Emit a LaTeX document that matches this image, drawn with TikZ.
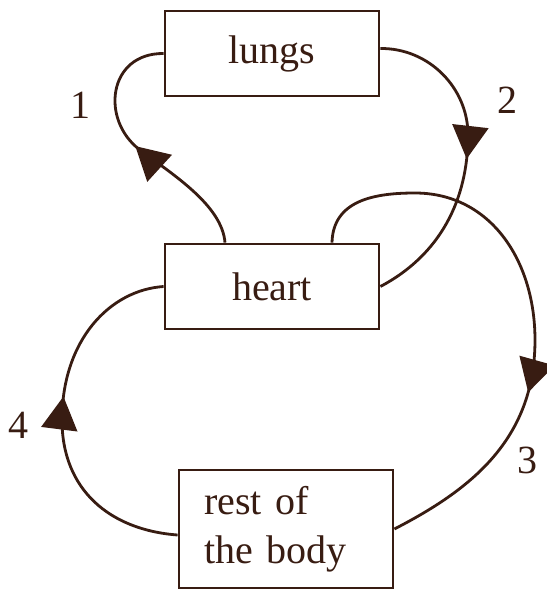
\documentclass[tikz,border=0pt]{standalone}
\usepackage{fontspec}
\setmainfont{Liberation Serif}
\usetikzlibrary{arrows.meta,decorations.markings}
\definecolor{inkBrown}{RGB}{56,28,18}

\begin{document}
\begin{tikzpicture}[x=0.5pt, y=-0.5pt, node distance=116.5pt,
	    block/.style={rectangle, draw=inkBrown, line width=1.4pt, minimum width=107pt, minimum height=42.5pt, text=inkBrown, font=\fontsize{20}{24.5}\selectfont},
	    line/.style={draw=inkBrown, line width=1.4pt},
	    midtip/.style={postaction={decorate, decoration={markings, mark=at position #1 with {\arrow[inkBrown]{Triangle[width=18pt,length=16.5pt]}}}}},
	    num/.style={text=inkBrown, font=\fontsize{20}{24}\selectfont}]
	    
	    \useasboundingbox (0,0) rectangle (547,590);
	    
	    \node [block] (lungs) at (272,53.5) {lungs};
	    \node [block, below of=lungs] (heart) {heart};
	    \node [block, below of=heart, node distance=121.25pt, xshift=7pt, minimum height=59pt, text width=82pt, inner xsep=12pt, align=left] (body) {rest of\\the body};
	    
	    \node [num] (n1) at (80,105) {1};
	    \node [num] (n2) at (507,100) {2};
	    \node [num] (n3) at (527,460) {3};
	    \node [num] (n4) at (19,425) {4};
	    
	    % heart -> lungs -> heart
	    \path [line, midtip=0.515] ([xshift=-23.5pt]heart.north) .. controls (222,205) and (172,174) .. (140,150) .. controls (100,120) and (108,53) .. (lungs.west);
	    \path [line, midtip=0.5] ([yshift=2.5pt]lungs.east) .. controls (429,48) and (468,88) .. (468,135) .. controls (468,200) and (440,255) .. (heart.east);
	    % heart -> body -> heart
	    \path [line, midtip=0.655] ([xshift=30pt]heart.north) .. controls (333,200) and (375,193) .. (415,193) .. controls (490,193) and (535,260) .. (535,340) .. controls (535,440) and (470,490) .. (body.east);
	    \path [line, midtip=0.56] ([yshift=-3pt]body.west) .. controls (110,530) and (62,490) .. (62,420) .. controls (62,340) and (110,290) .. (heart.west);
	\end{tikzpicture}
\end{document}
